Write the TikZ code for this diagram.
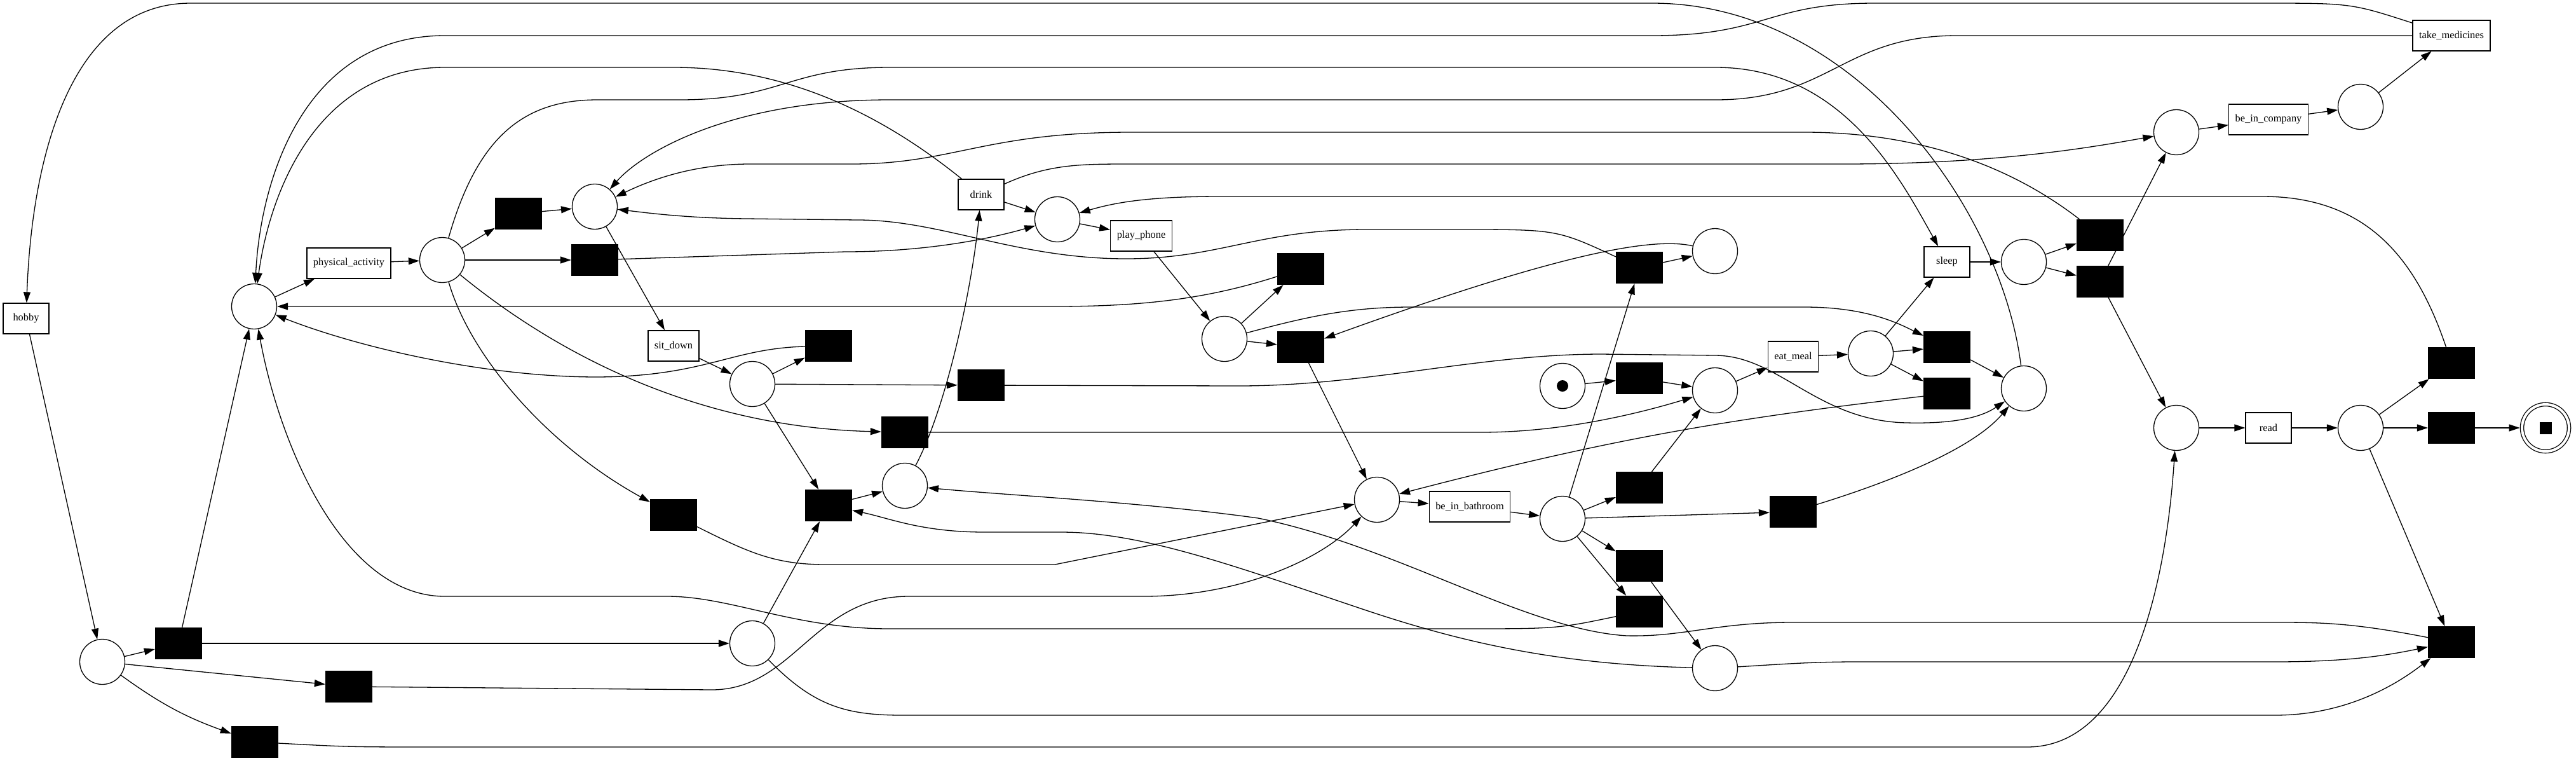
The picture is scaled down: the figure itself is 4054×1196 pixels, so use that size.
\documentclass[tikz,border=0pt]{standalone}
\usepackage{fontspec}
\setmainfont{Liberation Serif}
\usetikzlibrary{arrows.meta}

\begin{document}
\begin{tikzpicture}[x=0.5pt, y=-0.5pt,
    every node/.style={line width=0.65pt},
    place/.style={circle, draw, minimum size=35.5pt, inner sep=0pt},
    trans/.style={rectangle, draw, minimum width=36pt, minimum height=24pt,
                  inner xsep=5pt, inner ysep=0pt, font=\fontsize{8.2}{9}\selectfont},
    silent/.style={rectangle, draw, fill=black, minimum width=36.5pt,
                   minimum height=24.5pt, inner sep=0pt},
    token/.style={circle, fill=black, minimum size=9pt, inner sep=0pt},
    endtoken/.style={rectangle, fill=black, minimum size=9.5pt, inner sep=0pt},
    flow/.style={line width=0.65pt, -{Triangle[length=8.5pt,width=5.5pt]}}]

      \useasboundingbox (0,0) rectangle (4054,1196);

      \node[place] (mainP)  at (400,482)  {};
      \node[place] (paP)    at (696,409)  {};
      \node[place] (sdP)    at (936,325)  {};
      \node[place] (sd2P)   at (1184,604) {};
      \node[place] (drP)    at (1424,764) {};
      \node[place] (phP)    at (1664,345) {};
      \node[place] (ph2P)   at (1927,533) {};
      \node[place] (xP)     at (2699,395) {};
      \node[place] (startP) at (2459,607) {};
      \node[place] (emP)    at (2699,614) {};
      \node[place] (em2P)   at (2944,556) {};
      \node[place] (bbP)    at (2167,786) {};
      \node[place] (bb2P)   at (2459,816) {};
      \node[place] (yP)     at (2699,1051) {};
      \node[place] (hobP)   at (161,1041) {};
      \node[place] (hob2P)  at (1184,1012) {};
      \node[place] (slP)    at (3185,412) {};
      \node[place] (zP)     at (3185,611) {};
      \node[place] (bcP)    at (3425,208) {};
      \node[place] (bc2P)   at (3715,168) {};
      \node[place] (rdP)    at (3425,673) {};
      \node[place] (rd2P)   at (3715,673) {};
      \node[place, double, double distance=2pt, minimum size=37pt, outer sep=1.7pt] (endP) at (4006,673) {};

      \node[token]    (startTok) at (startP) {};
      \node[endtoken] (endTok)   at (endP)   {};

      \node[trans] (hobbyT) at (41,501)   {hobby};
      \node[trans] (physT)  at (549,414)  {physical\_activity};
      \node[trans] (sitT)   at (1060,544) {sit\_down};
      \node[trans] (drinkT) at (1544,306) {drink};
      \node[trans] (phoneT) at (1796,371) {play\_phone};
      \node[trans] (bathT)  at (2313,797) {be\_in\_bathroom};
      \node[trans] (mealT)  at (2822,561) {eat\_meal};
      \node[trans] (sleepT) at (3064,412) {sleep};
      \node[trans] (compT)  at (3570,188) {be\_in\_company};
      \node[trans] (medT)   at (3858,56)  {take\_medicines};
      \node[trans] (readT)  at (3570,673) {read};

      \node[silent] (s1)  at (816,336)  {};
      \node[silent] (s2)  at (936,409)  {};
      \node[silent] (s3)  at (1304,544) {};
      \node[silent] (s4)  at (1544,606) {};
      \node[silent] (s5)  at (1424,680) {};
      \node[silent] (s6)  at (1304,795) {};
      \node[silent] (s7)  at (1060,810) {};
      \node[silent] (s8)  at (2047,423) {};
      \node[silent] (s9)  at (2047,546) {};
      \node[silent] (s10) at (2580,421) {};
      \node[silent] (s11) at (2580,595) {};
      \node[silent] (s12) at (3064,546) {};
      \node[silent] (s13) at (3064,619) {};
      \node[silent] (s14) at (2580,767) {};
      \node[silent] (s15) at (2822,805) {};
      \node[silent] (s16) at (2580,890) {};
      \node[silent] (s17) at (2580,962) {};
      \node[silent] (s18) at (3305,370) {};
      \node[silent] (s19) at (3305,443) {};
      \node[silent] (s20) at (3858,571) {};
      \node[silent] (s21) at (3858,673) {};
      \node[silent] (s22) at (3858,1010) {};
      \node[silent] (s23) at (281,1012) {};
      \node[silent] (s24) at (549,1080) {};
      \node[silent] (s25) at (401,1167) {};

      \draw[flow] (mainP)  -- (physT);
      \draw[flow] (physT)  -- (paP);
      \draw[flow] (paP)    -- (s1);
      \draw[flow] (paP)    -- (s2);
      \draw[flow] (paP) .. controls (880,560) and (1100,672) .. (s5);
      \draw[flow] (paP) .. controls (740,560) and (860,700) .. (s7);
      \draw[flow] (paP) .. controls (750,220) and (820,157) .. (940,157) -- (1070,157)
                  .. controls (1230,157) and (1240,106) .. (1400,106) -- (2700,106)
                  .. controls (2900,106) and (2990,280) .. (sleepT);

      \draw[flow] (s1)     -- (sdP);
      \draw[flow] (sdP)    -- (sitT);
      \draw[flow] (sitT)   -- (sd2P);
      \draw[flow] (sd2P)   -- (s3);
      \draw[flow] (sd2P)   -- (s4);
      \draw[flow] (sd2P)   -- (s6);
      \draw[flow] (s3) .. controls (1150,548) and (1110,592) .. (940,593)
                  .. controls (760,593) and (560,545) .. (mainP);
      \draw[flow] (s4) -- (1950,607) .. controls (2150,607) and (2330,557) .. (2520,557) -- (2700,559)
                  .. controls (2800,560) and (2860,662) .. (3000,665)
                  .. controls (3080,667) and (3120,655) .. (zP);
      \draw[flow] (s5) -- (2330,680) .. controls (2460,680) and (2580,650) .. (emP);
      \draw[flow] (s6)     -- (drP);
      \draw[flow] (s7) .. controls (1180,870) and (1220,888) .. (1300,888) -- (1660,888) -- (bbP);

      \draw[flow] (drP) .. controls (1490,640) and (1530,450) .. (drinkT);
      \draw[flow] (drinkT) -- (phP);
      \draw[flow] (drinkT) .. controls (1400,190) and (1250,106) .. (1060,106) -- (700,106)
                  .. controls (500,106) and (425,300) .. (mainP);
      \draw[flow] (drinkT) .. controls (1650,258) and (1700,258) .. (1780,258) -- (2900,258)
                  .. controls (3150,258) and (3300,230) .. (bcP);
      \draw[flow] (phP)    -- (phoneT);
      \draw[flow] (phoneT) -- (ph2P);
      \draw[flow] (ph2P)   -- (s8);
      \draw[flow] (ph2P)   -- (s9);
      \draw[flow] (ph2P) .. controls (2050,500) and (2120,483) .. (2220,483) -- (2840,483)
                  .. controls (2940,483) and (2990,510) .. (s12);
      \draw[flow] (s8) .. controls (1900,470) and (1800,482) .. (1660,482) -- (mainP);
      \draw[flow] (s9)     -- (bbP);
      \draw[flow] (s2) -- (1330,396) .. controls (1460,396) and (1560,375) .. (phP);

      \draw[flow] (s10)    -- (xP);
      \draw[flow] (s10) .. controls (2450,361) .. (2300,361) -- (2150,361)
                  .. controls (1980,361) and (1920,407) .. (1772,407)
                  .. controls (1600,407) and (1480,346) .. (1350,346) -- (1175,344)
                  .. controls (1080,343) and (1020,335) .. (sdP);
      \draw[flow] (xP) .. controls (2600,372) and (2450,400) .. (s9);
      \draw[flow] (bb2P)   -- (s10);
      \draw[flow] (startP) -- (s11);
      \draw[flow] (s11)    -- (emP);
      \draw[flow] (emP)    -- (mealT);
      \draw[flow] (mealT)  -- (em2P);
      \draw[flow] (em2P)   -- (sleepT);
      \draw[flow] (em2P)   -- (s12);
      \draw[flow] (em2P)   -- (s13);
      \draw[flow] (s12)    -- (zP);
      \draw[flow] (s13) to[bend right=4] (bbP);
      \draw[flow] (zP) .. controls (3150,330) and (2920,5) .. (2600,5) -- (300,5)
                  .. controls (110,5) and (50,250) .. (hobbyT);

      \draw[flow] (sleepT) -- (slP);
      \draw[flow] (slP)    -- (s18);
      \draw[flow] (slP)    -- (s19);
      \draw[flow] (s18) .. controls (3150,250) and (3000,208) .. (2840,208) -- (1780,208)
                  .. controls (1550,208) and (1500,258) .. (1340,258) -- (1180,258)
                  .. controls (1080,258) and (1010,290) .. (sdP);
      \draw[flow] (s19)    -- (bcP);
      \draw[flow] (s19)    -- (rdP);
      \draw[flow] (bcP)    -- (compT);
      \draw[flow] (compT)  -- (bc2P);
      \draw[flow] (bc2P)   -- (medT);
      \draw[flow] (medT) .. controls (3700,5) .. (3560,5) -- (2950,5)
                  .. controls (2780,5) and (2780,56) .. (2600,56) -- (700,56)
                  .. controls (480,56) and (410,280) .. (mainP);
      \draw[flow] (medT) -- (3080,56) .. controls (2900,56) and (2880,157) .. (2700,157) -- (1400,157)
                  .. controls (1150,157) and (1010,240) .. (sdP);

      \draw[flow] (rdP)    -- (readT);
      \draw[flow] (readT)  -- (rd2P);
      \draw[flow] (rd2P)   -- (s20);
      \draw[flow] (rd2P)   -- (s21);
      \draw[flow] (rd2P)   -- (s22);
      \draw[flow] (s21)    -- (endP);
      \draw[flow] (s20) .. controls (3800,400) and (3720,309) .. (3560,309) -- (1920,309)
                  .. controls (1800,309) and (1750,320) .. (phP);
      \draw[flow] (s22) .. controls (3700,979) and (3650,979) .. (3580,979) -- (2820,979)
                  .. controls (2700,979) and (2650,1002) .. (2560,1000)
                  .. controls (2400,990) and (2200,860) .. (1980,815)
                  .. controls (1800,790) and (1600,780) .. (drP);

      \draw[flow] (bbP)    -- (bathT);
      \draw[flow] (bathT)  -- (bb2P);
      \draw[flow] (bb2P)   -- (s14);
      \draw[flow] (bb2P)   -- (s15);
      \draw[flow] (bb2P)   -- (s16);
      \draw[flow] (bb2P)   -- (s17);
      \draw[flow] (s14)    -- (emP);
      \draw[flow] (s15) .. controls (3000,750) and (3110,700) .. (zP);
      \draw[flow] (s16)    -- (yP);
      \draw[flow] (s17) .. controls (2450,989) .. (2300,989) -- (1400,989)
                  .. controls (1250,989) and (1150,938) .. (1050,938) -- (700,938)
                  .. controls (540,938) and (440,700) .. (mainP);
      \draw[flow] (yP) .. controls (2800,1045) and (2850,1041) .. (2920,1041) -- (3580,1041)
                  .. controls (3700,1041) and (3760,1030) .. (s22);
      \draw[flow] (yP) .. controls (2450,1045) and (2300,1010) .. (2150,960)
                  .. controls (1950,893) and (1800,837) .. (1670,837) -- (1550,837)
                  .. controls (1450,837) and (1400,815) .. (s6);

      \draw[flow] (hobbyT) -- (hobP);
      \draw[flow] (hobP)   -- (s23);
      \draw[flow] (hobP)   -- (s24);
      \draw[flow] (hobP) to[bend right=8] (s25);
      \draw[flow] (s23)    -- (mainP);
      \draw[flow] (s23)    -- (hob2P);
      \draw[flow] (s24) -- (1120,1085) .. controls (1250,1085) and (1280,938) .. (1430,938) -- (1800,938)
                  .. controls (1950,938) and (2080,880) .. (bbP);
      \draw[flow] (s25) .. controls (550,1175) .. (700,1175) -- (3190,1175)
                  .. controls (3360,1175) and (3410,900) .. (rdP);
      \draw[flow] (hob2P)  -- (s6);
      \draw[flow] (hob2P) .. controls (1280,1110) and (1330,1125) .. (1420,1125) -- (3580,1125)
                  .. controls (3700,1125) and (3780,1070) .. (s22);
    \end{tikzpicture}
\end{document}
